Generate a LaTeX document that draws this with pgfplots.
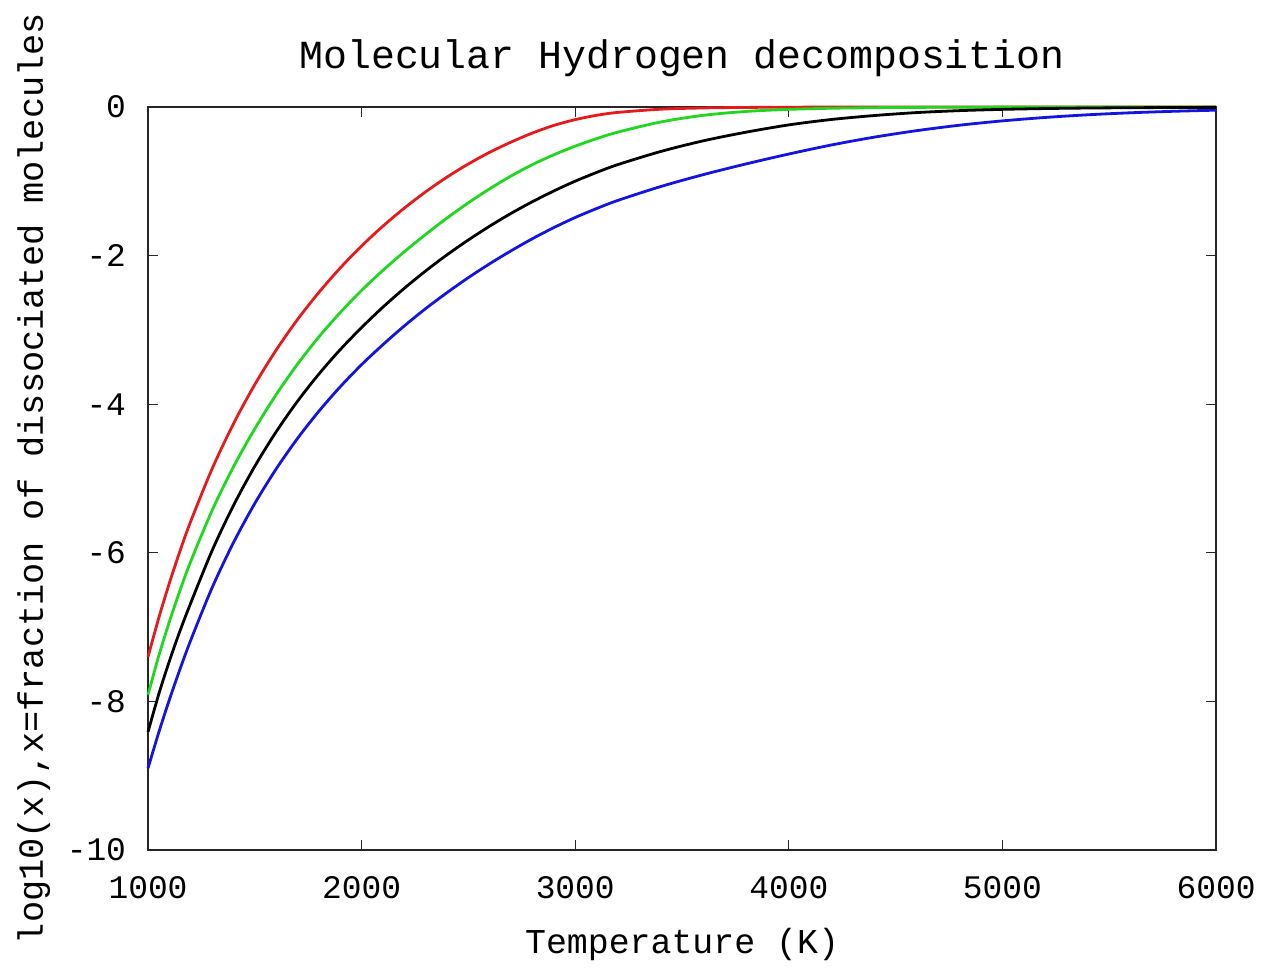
\documentclass[border=0pt]{standalone}
\usepackage{fontspec}
\setmainfont{Liberation Mono}
\usepackage{pgfplots}
\usepackage{pgfplotstable}
\pgfplotsset{compat=1.18}

% log10 of dissociated fraction
\pgfplotstableread{
T     red     green    black   blue
1000  -7.400  -7.910   -8.410  -8.900
1050  -6.880  -7.390   -7.905  -8.420
1100  -6.407  -6.927   -7.457  -7.977
1150  -5.974  -6.504   -7.049  -7.564
1200  -5.576  -6.116   -6.676  -7.176
1300  -4.870  -5.430   -5.970  -6.470
1400  -4.263  -4.843   -5.363  -5.863
1500  -3.735  -4.330   -4.835  -5.335
1600  -3.271  -3.871   -4.371  -4.871
1700  -2.860  -3.460   -3.960  -4.460
1800  -2.495  -3.094   -3.594  -4.094
1900  -2.166  -2.766   -3.265  -3.765
2000  -1.870  -2.468   -2.968  -3.467
2100  -1.603  -2.198   -2.693  -3.198
2200  -1.361  -1.948   -2.440  -2.946
2300  -1.141  -1.714   -2.206  -2.713
2400  -0.943  -1.494   -1.989  -2.498
2500  -0.766  -1.289   -1.789  -2.296
2600  -0.609  -1.100   -1.603  -2.109
2700  -0.472  -0.928   -1.431  -1.935
2800  -0.350  -0.775   -1.274  -1.772
2900  -0.248  -0.643   -1.130  -1.623
3000  -0.170  -0.527   -0.998  -1.487
3100  -0.112  -0.426   -0.881  -1.367
3200  -0.073  -0.338   -0.775  -1.257
3400  -0.030  -0.202   -0.599  -1.071
3600  -0.013  -0.112   -0.455  -0.910
3800  -0.006  -0.060   -0.339  -0.766
4000  -0.003  -0.032   -0.241  -0.633
4200  -0.001  -0.017   -0.168  -0.511
4400  -0.001  -0.0095  -0.115  -0.406
4600  0       -0.0055  -0.075  -0.318
4800  0       -0.0033  -0.049  -0.245
5000  0       -0.002   -0.032  -0.187
5200  0       -0.0012  -0.021  -0.141
5400  0       -0.0008  -0.014  -0.105
5600  0       -0.0005  -0.010  -0.078
5800  0       -0.0003  -0.007  -0.058
6000  0       -0.0002  -0.005  -0.043
}\hdata

\definecolor{gpred}{RGB}{228,26,28}
\definecolor{gpgreen}{RGB}{30,215,30}
\definecolor{gpblue}{RGB}{20,20,225}

\begin{document}
\begin{tikzpicture}
\begin{axis}[
  scale only axis,
  width=534bp, height=371.5bp,
  xmin=1000, xmax=6000,
  ymin=-10, ymax=0,
  xtick={1000,2000,3000,4000,5000,6000},
  ytick={-10,-8,-6,-4,-2,0},
  tick align=inside,
  major tick length=5bp,
  axis line style={line width=0.7bp, black!85},
  tick style={line width=0.6bp, black!85},
  /pgf/number format/assume math mode=true,
  /pgf/number format/1000 sep={},
  ticklabel style={font=\fontsize{16.5}{16.5}\selectfont},
  xticklabel style={yshift=-9.5bp},
  yticklabel style={xshift=-7.5bp},
  title={Molecular Hydrogen decomposition},
  title style={font=\fontsize{20}{20}\selectfont, at={(axis description cs:0.5,1.0495)}, anchor=center},
  xlabel={Temperature (K)},
  xlabel style={font=\fontsize{17.5}{17.5}\selectfont, at={(axis description cs:0.5,-0.127)}, anchor=center},
  ylabel={log10(x),x=fraction of dissociated molecules},
  ylabel style={font=\fontsize{17.7}{17.7}\selectfont, at={(axis description cs:-0.107,0.5)}, anchor=center, rotate=0},
  clip=false,
]
\addplot[gpred, line width=1.4bp, smooth] table[x=T, y=red] {\hdata};
\addplot[gpgreen, line width=1.4bp, smooth] table[x=T, y=green] {\hdata};
\addplot[black, line width=1.4bp, smooth] table[x=T, y=black] {\hdata};
\addplot[gpblue, line width=1.4bp, smooth] table[x=T, y=blue] {\hdata};
\path (rel axis cs:-0.1386,-0.1615) rectangle (rel axis cs:1.0524,1.144);
\end{axis}
\end{tikzpicture}
\end{document}
